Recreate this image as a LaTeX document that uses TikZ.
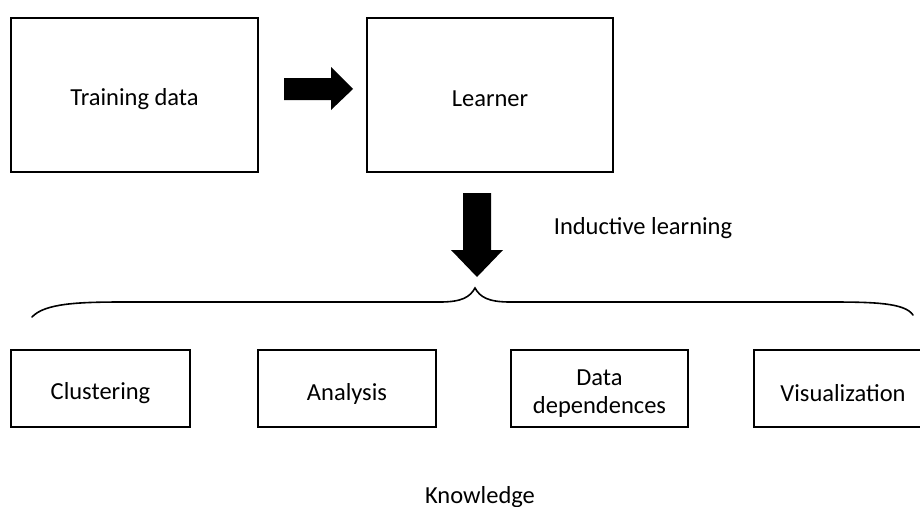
\documentclass[tikz,border=0pt]{standalone}
\usepackage{fontspec}
\setmainfont{Carlito}
\usetikzlibrary{calc}
\begin{document}
\begin{tikzpicture}[x=1pt,y=-1pt,
  box/.style={draw=black,line width=1.6pt,rectangle,inner sep=0pt},
  lbl/.style={inner sep=0pt,align=center,font=\fontsize{24.5}{28}\selectfont},
  blockarrow/.style={fill=black,draw=none},
  bracepath/.style={draw=black,line width=1.6pt,line cap=round}]
\useasboundingbox (0,0) rectangle (920,506);
\clip (0,0) rectangle (920,506);

% upper row
\node[box,minimum width=247pt,minimum height=154pt] (train) at (134.5,95) {};
\node[lbl] (trainlbl) at ($(train.center)+(0,4)$) {Training data};
\node[box,minimum width=246pt,minimum height=154pt] (learner) at (490,95) {};
\node[lbl] (learnlbl) at ($(learner.center)+(0,3.5)$) {Learner};

% block arrow from training data to learner
\fill[blockarrow] (284,78) -- (331,78) -- (331,67) -- (353,89) -- (331,110) -- (331,100) -- (284,100) -- cycle;

% block arrow from learner down to the brace
\fill[blockarrow] (463,193) -- (491,193) -- (491,250) -- (503,250) -- (477,277) -- (451,250) -- (463,250) -- cycle;
\node[lbl] (induct) at (643,228) {Inductive learning};

% brace over the outcomes
\draw[bracepath] (32,317) .. controls (45,303) and (80,302) .. (125,302)
  -- (440,302) .. controls (462,302) and (470,297) .. (475,288)
  .. controls (480,297) and (488,302) .. (510,302)
  -- (830,302) .. controls (875,302) and (905,303) .. (913,315);

% outcomes
\node[box,minimum width=179pt,minimum height=77pt] (clust) at (100.5,388.5) {};
\node[box,minimum width=178pt,minimum height=77pt] (anal) at (347,388.5) {};
\node[box,minimum width=177pt,minimum height=77pt] (dep) at (599.5,388.5) {};
\node[box,minimum width=178pt,minimum height=77pt] (vis) at (843,388.5) {};
\node[lbl] (clustlbl) at ($(clust.center)+(0,5)$) {Clustering};
\node[lbl] (anallbl) at ($(anal.center)+(0,5)$) {Analysis};
\node[lbl] (deplbl) at ($(dep.center)+(0,5.5)$) {Data\\dependences};
\node[lbl] (vislbl) at ($(vis.center)+(0,5)$) {Visualization};

\node[lbl,anchor=base] (know) at (480,503) {Knowledge};
\end{tikzpicture}
\end{document}
